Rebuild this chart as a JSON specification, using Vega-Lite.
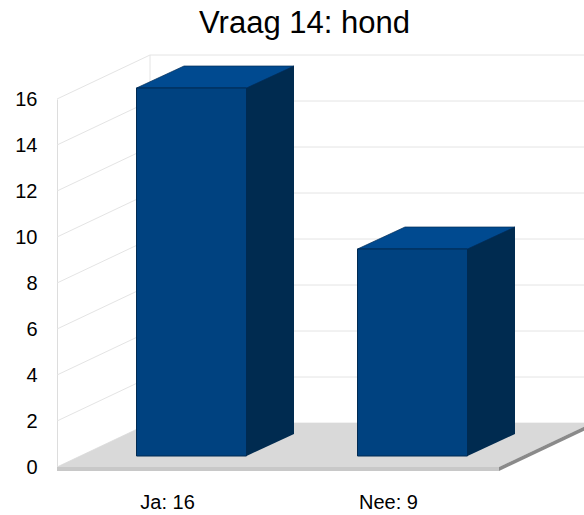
{
  "$schema": "https://vega.github.io/schema/vega-lite/v6.json",
  "width": 527,
  "height": 368,
  "autosize": {"type": "none"},
  "padding": {"left": 57, "top": 99, "right": 0, "bottom": 48},
  "background": "white",
  "title": {"text": "Vraag 14: hond", "fontSize": 31, "font": "Liberation Sans", "fontWeight": "normal", "color": "#000000", "anchor": "middle", "dx": -16, "baseline": "alphabetic", "offset": -11},
  "config": {"view": {"stroke": null}, "font": "Liberation Sans"},
  "datasets": {
    "bars": [
      {"antwoord": "Ja: 16", "aantal": 16},
      {"antwoord": "Nee: 9", "aantal": 9}
    ],
    "ticks": [
      {"v": 0}, {"v": 2}, {"v": 4}, {"v": 6}, {"v": 8}, {"v": 10}, {"v": 12}, {"v": 14}, {"v": 16}
    ],
    "frame": [{"v": 0}]
  },
  "layer": [
    {
      "data": {"name": "ticks"},
      "mark": {"type": "point", "shape": "M0,0L93,-44L640,-44", "size": 4, "filled": false, "stroke": "#e4e4e4", "strokeWidth": 1, "opacity": 1},
      "encoding": {
        "x": {"value": 0},
        "y": {
          "field": "v", "type": "quantitative",
          "scale": {"domain": [0, 16], "nice": false, "zero": true},
          "axis": {"title": null, "values": [0, 2, 4, 6, 8, 10, 12, 14, 16], "labelFontSize": 20, "labelFont": "Liberation Sans", "labelColor": "#000000", "ticks": false, "labelPadding": 20, "domainColor": "#dddddd", "domainWidth": 1, "grid": false}
        }
      }
    },
    {
      "data": {"name": "frame"},
      "mark": {"type": "rule", "color": "#e4e4e4", "strokeWidth": 1, "yOffset": -44, "y2Offset": -44},
      "encoding": {
        "x": {"value": 93},
        "y": {"datum": 0, "type": "quantitative"},
        "y2": {"datum": 16}
      }
    },
    {
      "data": {"name": "frame"},
      "mark": {"type": "point", "shape": "M0,0L442,0L535,-44L93,-44Z", "size": 4, "filled": true, "fill": "#d9d9d9", "opacity": 1, "strokeWidth": 0},
      "encoding": {"x": {"value": 0}, "y": {"datum": 0, "type": "quantitative"}}
    },
    {
      "data": {"name": "frame"},
      "mark": {"type": "point", "shape": "M0,0L442,0L442,4L0,4Z", "size": 4, "filled": true, "fill": "#c8c8c8", "opacity": 1, "strokeWidth": 0},
      "encoding": {"x": {"value": 0}, "y": {"datum": 0, "type": "quantitative"}}
    },
    {
      "data": {"name": "frame"},
      "mark": {"type": "point", "shape": "M442,0L535,-44L535,-40L442,4Z", "size": 4, "filled": true, "fill": "#8a8a8a", "opacity": 1, "strokeWidth": 0},
      "encoding": {"x": {"value": 0}, "y": {"datum": 0, "type": "quantitative"}}
    },
    {
      "data": {"name": "bars"},
      "mark": {"type": "bar", "width": 110, "xOffset": 71.5, "yOffset": -33, "y2Offset": -33, "color": "#002b50"},
      "encoding": {
        "x": {
          "field": "antwoord", "type": "nominal", "sort": null,
          "scale": {"range": [0, 442], "paddingInner": 0, "paddingOuter": 0},
          "axis": {"title": null, "labelFontSize": 20, "labelFont": "Liberation Sans", "labelColor": "#000000", "ticks": false, "domain": false, "labelPadding": 25, "labelAngle": 0, "grid": false}
        },
        "y": {"field": "aantal", "type": "quantitative"}
      }
    },
    {
      "data": {"name": "bars"},
      "mark": {"type": "point", "shape": "M0,0L47.5,-22L0,-22Z", "size": 4, "filled": true, "fill": "#002b50", "opacity": 1, "strokeWidth": 0, "xOffset": 79, "yOffset": -11},
      "encoding": {
        "x": {"field": "antwoord", "type": "nominal", "sort": null},
        "y": {"datum": 0, "type": "quantitative"}
      }
    },
    {
      "data": {"name": "bars"},
      "mark": {"type": "point", "shape": "M0,0L47.5,-22L157.5,-22L110,0Z", "size": 4, "filled": true, "fill": "#004a90", "stroke": "#002d57", "strokeWidth": 0.7, "opacity": 1, "xOffset": -31, "yOffset": -11},
      "encoding": {
        "x": {"field": "antwoord", "type": "nominal", "sort": null},
        "y": {"field": "aantal", "type": "quantitative"}
      }
    },
    {
      "data": {"name": "bars"},
      "mark": {"type": "bar", "width": 110, "xOffset": 24, "yOffset": -11, "y2Offset": -11, "fill": "#004280", "stroke": "#002a52", "strokeWidth": 1},
      "encoding": {
        "x": {"field": "antwoord", "type": "nominal", "sort": null},
        "y": {"field": "aantal", "type": "quantitative"}
      }
    }
  ]
}
